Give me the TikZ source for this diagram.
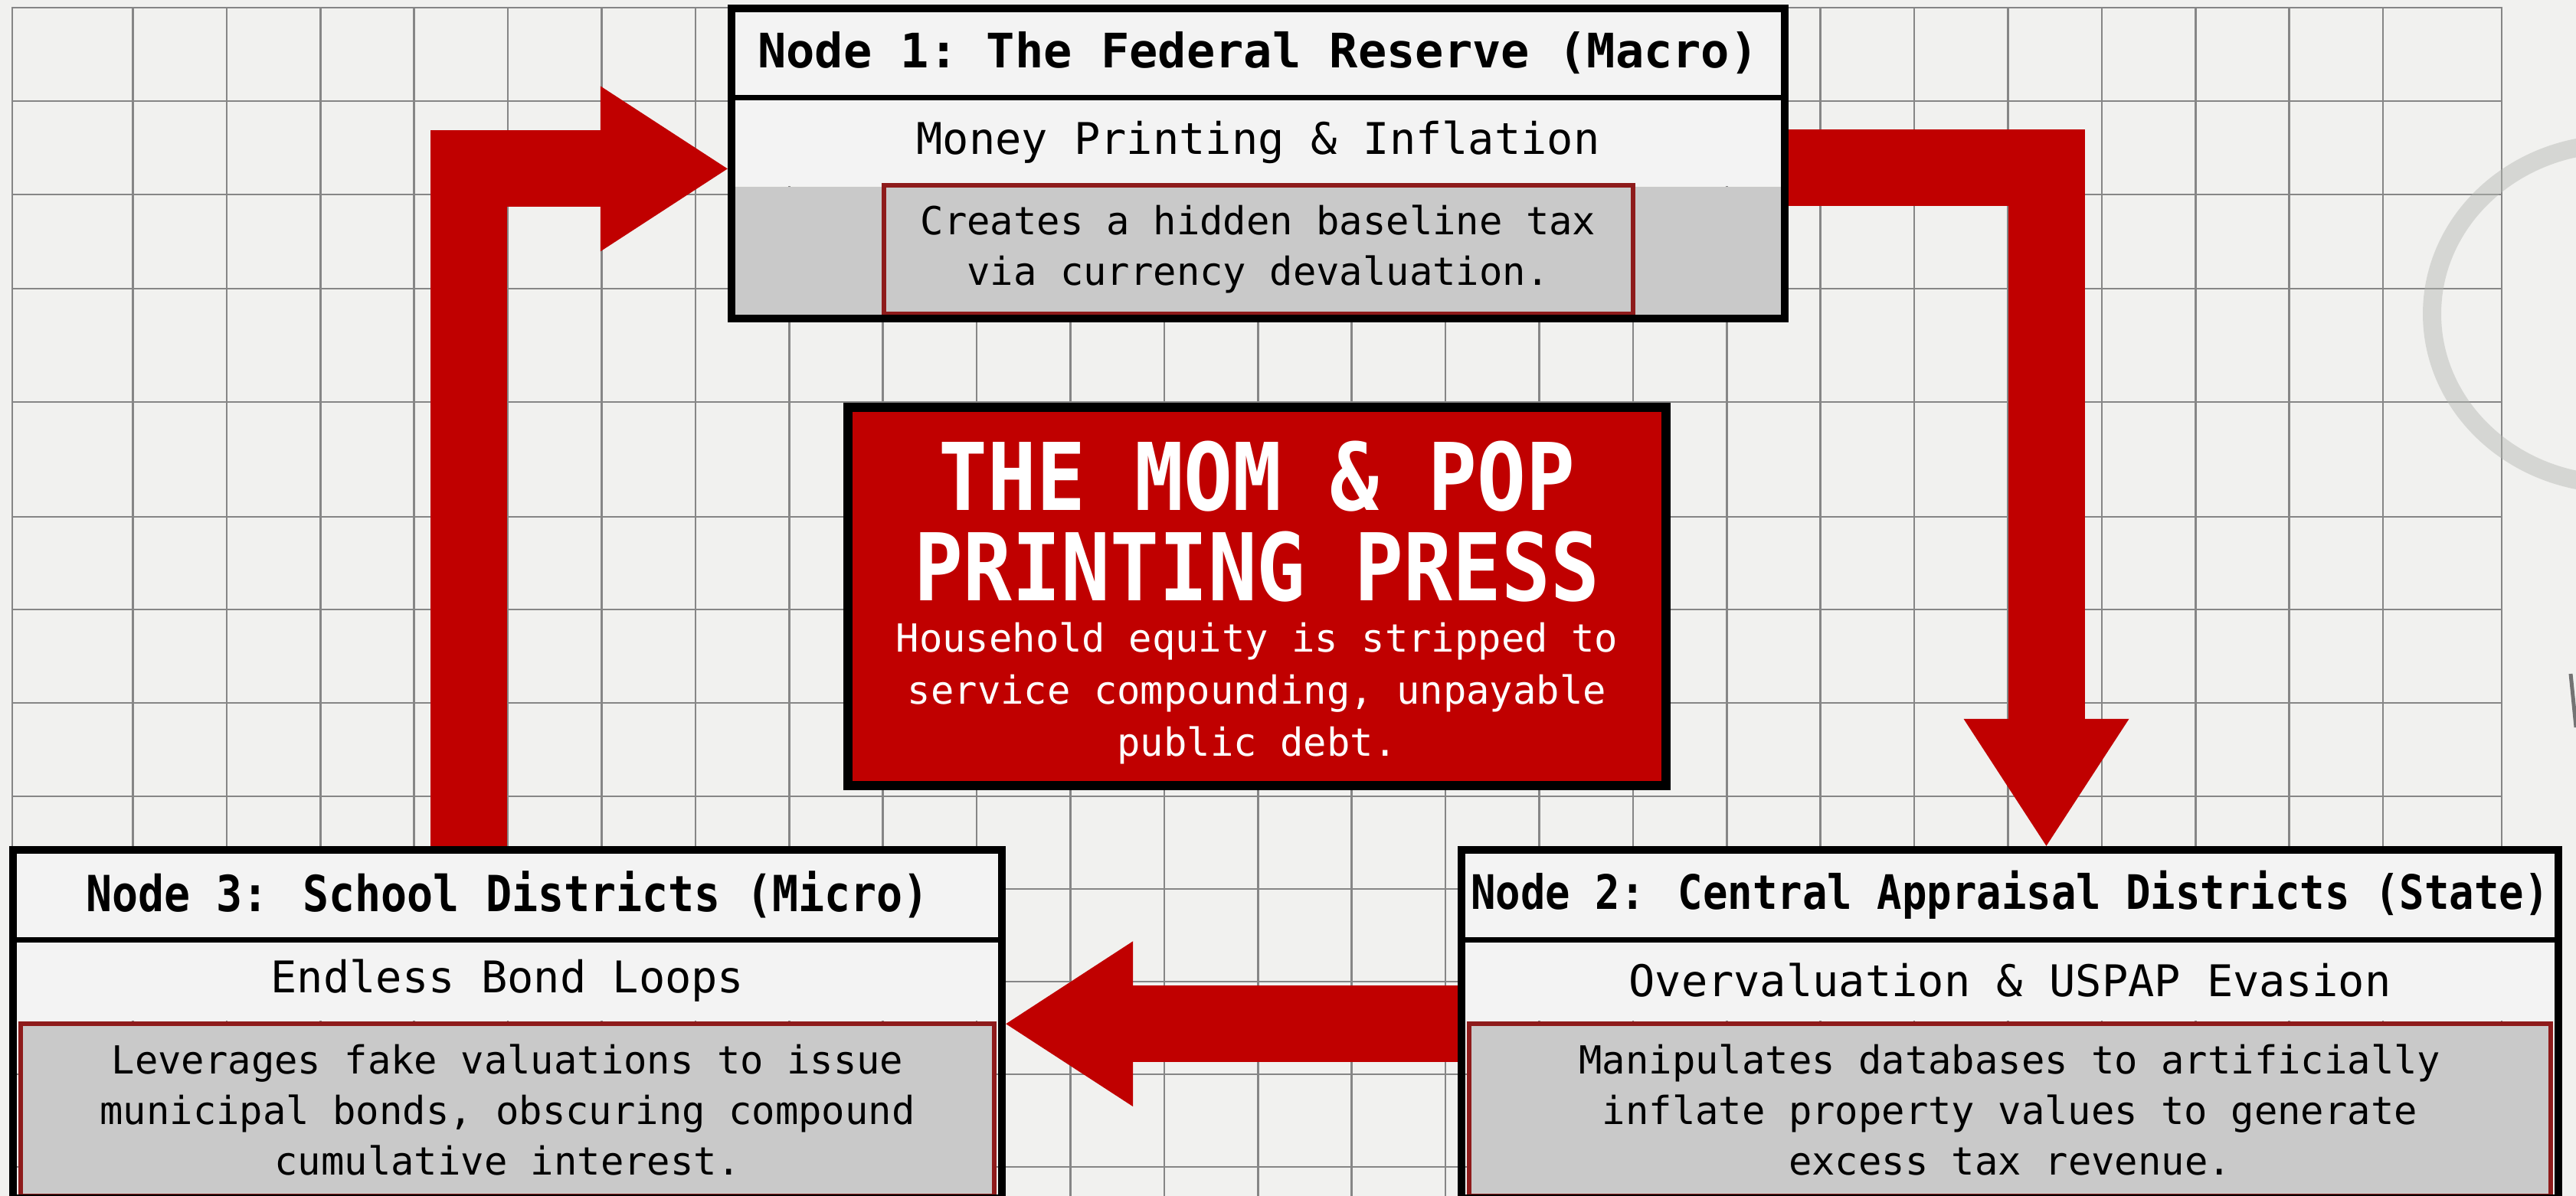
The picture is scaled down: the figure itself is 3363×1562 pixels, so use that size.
\documentclass[tikz,border=0pt]{standalone}
\usepackage{fontspec}
\setmonofont{DejaVu Sans Mono}
\newfontfamily\narrowmono{DejaVu Sans Mono}[FakeStretch=0.87]
\usepackage{tikz}
\usetikzlibrary{positioning,fit,arrows.meta}

\definecolor{paper}{HTML}{F1F1EF}
\definecolor{gridgray}{HTML}{868686}
\definecolor{pressred}{HTML}{C00000}
\definecolor{notered}{HTML}{8E1B1B}
\definecolor{notegray}{HTML}{C9C9C9}
\definecolor{bandwhite}{HTML}{F3F3F3}
\definecolor{stain}{HTML}{B4B7B2}

\tikzset{
	band/.style={fill=bandwhite, inner sep=0pt, align=center},
	headfont/.style={font=\ttfamily\bfseries\fontsize{62}{74}\selectfont},
	narrowhead/.style={font=\narrowmono\bfseries\fontsize{#1}{74}\selectfont},
	subfont/.style={font=\ttfamily\fontsize{57}{68}\selectfont},
	notebox/.style={fill=notegray, draw=notered, line width=6pt, inner sep=0pt, align=center, font=\ttfamily\fontsize{50.5}{66}\selectfont},
	nodeframe/.style={draw=black, line width=10pt, inner sep=0pt},
	divider/.style={draw=black, line width=7pt},
	flowarrow/.style={draw=pressred, line width=100pt, -{Triangle[length=166pt, width=216pt, line width=0pt]}},
	gridline/.style={draw=gridgray, line width=2.5pt}
}

\begin{document}
\begin{tikzpicture}[x=1pt, y=-1pt]
	\useasboundingbox (0,0) rectangle (3363,1562);
	% paper, grid and stain
	\fill[paper] (0,0) rectangle (3363,1562);
	\draw[gridline] (16,10) rectangle (3266,1600);
	\foreach \i in {0,...,24}
		\draw[gridline] ({173.5+122.4*\i},10) -- ({173.5+122.4*\i},1562);
	\foreach \y in {132,254,377,525,675,796,918,1040,1161,1282,1403,1524}
		\draw[gridline] (16,\y) -- (3266,\y);
	\draw[stain, line width=24pt, opacity=0.45] (3415,410) ellipse [x radius=240, y radius=222];
	\draw[black!55, line width=5pt] (3356,880) -- (3363,950);

	% Node 1
	\node[band, headfont, minimum width=1375, minimum height=116] (n1head) at (1642.5,69) {Node 1: The Federal Reserve (Macro)};
	\node[band, subfont, minimum width=1375, minimum height=116, below=0pt of n1head] (n1sub) {Money Printing \& Inflation};
	\node[band, fill=notegray, minimum width=1375, minimum height=172, below=0pt of n1sub] (n1body) {};
	\node[notebox, minimum width=978, minimum height=168] (n1note) at ([yshift=4pt]n1body.center) {Creates a hidden baseline tax\\via currency devaluation.};
	\draw[divider] (n1head.south west) -- (n1head.south east);
	\node[nodeframe, fit=(n1head)(n1body)] (n1) {};

	% Node 2
	\node[band, narrowhead=62, minimum width=1432, minimum height=117] (n2head) at (2624,1168.5) {Node 2: Central Appraisal Districts (State)};
	\node[band, subfont, minimum width=1432, minimum height=106, below=0pt of n2head] (n2sub) {Overvaluation \& USPAP Evasion};
	\node[notebox, minimum width=1412, minimum height=225, below=0pt of n2sub] (n2body) {Manipulates databases to artificially\\inflate property values to generate\\excess tax revenue.};
	\draw[divider] (n2head.south west) -- (n2head.south east);
	\node[nodeframe, fit=(n2head)(n2body)] (n2) {};

	% Node 3
	\node[band, narrowhead=65, minimum width=1291, minimum height=117] (n3head) at (662.5,1168.5) {Node 3: School Districts (Micro)};
	\node[band, subfont, minimum width=1291, minimum height=106, below=0pt of n3head] (n3sub) {Endless Bond Loops};
	\node[notebox, minimum width=1271, minimum height=225, below=0pt of n3sub] (n3body) {Leverages fake valuations to issue\\municipal bonds, obscuring compound\\cumulative interest.};
	\draw[divider] (n3head.south west) -- (n3head.south east);
	\node[nodeframe, fit=(n3head)(n3body)] (n3) {};

	% centre box
	\node[draw=black, line width=12pt, fill=pressred, minimum width=1068, minimum height=494, inner sep=0pt] (press) at (1641,779) {};
	\node[text=white, align=center, font=\narrowmono\bfseries\fontsize{122}{118}\selectfont] (presstitle) at ([yshift=98pt]press.center) {THE MOM \& POP\\PRINTING PRESS};
	\node[text=white, align=center, font=\ttfamily\fontsize{50.5}{68}\selectfont] (pressnote) at ([yshift=-126pt]press.center) {Household equity is stripped to\\service compounding, unpayable\\public debt.};

	% loop arrows
	\draw[flowarrow] ([xshift=-51pt]n3.north) |- ([yshift=-7pt]n1.west);
	\draw[flowarrow] ([yshift=-6pt]n1.east) -| ([xshift=47.5pt]n2.north);
	\draw[flowarrow] (n2.west) -- (n3.east);
\end{tikzpicture}
\end{document}
